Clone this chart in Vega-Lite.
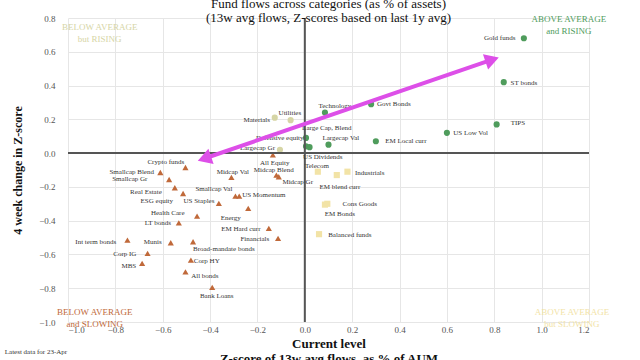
{
  "$schema": "https://vega.github.io/schema/vega-lite/v6.json",
  "width": 521,
  "height": 304,
  "autosize": {"type": "none"},
  "padding": {"left": 68, "top": 18, "right": 51, "bottom": 38},
  "background": "white",
  "config": {
    "view": {"stroke": null},
    "font": "Liberation Serif",
    "axis": {"labelFont": "Liberation Serif", "titleFont": "Liberation Serif", "labelColor": "#555", "labelFontSize": 9, "domain": false, "ticks": false, "gridColor": "#e6e6e6", "gridWidth": 1, "titleColor": "#111", "labelOverlap": false},
    "axisY": {"labelOverlap": false, "labelSeparation": 0}
  },
  "title": {
    "text": ["Fund flows across categories (as % of assets)", "(13w avg flows, Z-scores based on last 1y avg)"],
    "font": "Liberation Serif", "fontSize": 13, "fontWeight": "normal", "lineHeight": 14, "offset": -11, "color": "#111", "anchor": "middle"
  },
  "datasets": {
    "pts": [
      {"name": "Gold funds", "x": 0.925, "y": 0.68, "lx": 0.823, "ly": 0.68, "quad": "AR"},
      {"name": "ST bonds", "x": 0.84, "y": 0.42, "lx": 0.925, "ly": 0.414, "quad": "AR"},
      {"name": "TIPS", "x": 0.81, "y": 0.17, "lx": 0.9, "ly": 0.18, "quad": "AR"},
      {"name": "US Low Vol", "x": 0.6, "y": 0.12, "lx": 0.7, "ly": 0.118, "quad": "AR"},
      {"name": "EM Local curr", "x": 0.3, "y": 0.07, "lx": 0.427, "ly": 0.07, "quad": "AR"},
      {"name": "Govt Bonds", "x": 0.28, "y": 0.29, "lx": 0.376, "ly": 0.29, "quad": "AR"},
      {"name": "Technology", "x": 0.085, "y": 0.24, "lx": 0.127, "ly": 0.278, "quad": "AR"},
      {"name": "Large Cap, Blend", "x": 0.005, "y": 0.09, "lx": 0.093, "ly": 0.148, "quad": "AR"},
      {"name": "Largecap Val", "x": 0.1, "y": 0.05, "lx": 0.152, "ly": 0.089, "quad": "AR"},
      {"name": "Defensive equity", "x": 0.005, "y": 0.04, "lx": -0.106, "ly": 0.089, "quad": "AR"},
      {"name": "US Dividends", "x": 0.02, "y": 0.035, "lx": 0.076, "ly": -0.024, "quad": "AR"},
      {"name": "Materials", "x": -0.127, "y": 0.21, "lx": -0.203, "ly": 0.195, "quad": "BR"},
      {"name": "Utilities", "x": -0.06, "y": 0.195, "lx": -0.063, "ly": 0.237, "quad": "BR"},
      {"name": "Largecap Gr", "x": -0.105, "y": 0.02, "lx": -0.2, "ly": 0.03, "quad": "BR"},
      {"name": "Telecom", "x": 0.055, "y": -0.11, "lx": 0.051, "ly": -0.077, "quad": "AS"},
      {"name": "EM blend curr", "x": 0.135, "y": -0.13, "lx": 0.148, "ly": -0.2, "quad": "AS"},
      {"name": "Industrials", "x": 0.18, "y": -0.11, "lx": 0.274, "ly": -0.118, "quad": "AS"},
      {"name": "Cons Goods", "x": 0.095, "y": -0.3, "lx": 0.232, "ly": -0.302, "quad": "AS"},
      {"name": "EM Bonds", "x": 0.085, "y": -0.305, "lx": 0.148, "ly": -0.361, "quad": "AS"},
      {"name": "Balanced funds", "x": 0.06, "y": -0.48, "lx": 0.19, "ly": -0.485, "quad": "AS"},
      {"name": "Crypto funds", "x": -0.504, "y": -0.085, "lx": -0.587, "ly": -0.053, "quad": "BS"},
      {"name": "Smallcap Blend", "x": -0.61, "y": -0.115, "lx": -0.731, "ly": -0.113, "quad": "BS"},
      {"name": "Smallcap Gr", "x": -0.573, "y": -0.156, "lx": -0.739, "ly": -0.155, "quad": "BS"},
      {"name": "Real Estate", "x": -0.549, "y": -0.205, "lx": -0.671, "ly": -0.231, "quad": "BS"},
      {"name": "ESG equity", "x": -0.514, "y": -0.239, "lx": -0.625, "ly": -0.284, "quad": "BS"},
      {"name": "US Staples", "x": -0.363, "y": -0.298, "lx": -0.447, "ly": -0.284, "quad": "BS"},
      {"name": "Smallcap Val", "x": -0.293, "y": -0.255, "lx": -0.384, "ly": -0.213, "quad": "BS"},
      {"name": "US Momentum", "x": -0.277, "y": -0.255, "lx": -0.173, "ly": -0.249, "quad": "BS"},
      {"name": "Midcap Val", "x": -0.31, "y": -0.144, "lx": -0.304, "ly": -0.113, "quad": "BS"},
      {"name": "Energy", "x": -0.239, "y": -0.327, "lx": -0.313, "ly": -0.385, "quad": "BS"},
      {"name": "Health Care", "x": -0.455, "y": -0.373, "lx": -0.579, "ly": -0.355, "quad": "BS"},
      {"name": "LT bonds", "x": -0.532, "y": -0.413, "lx": -0.621, "ly": -0.415, "quad": "BS"},
      {"name": "Int term bonds", "x": -0.749, "y": -0.515, "lx": -0.883, "ly": -0.527, "quad": "BS"},
      {"name": "Munis", "x": -0.566, "y": -0.531, "lx": -0.642, "ly": -0.527, "quad": "BS"},
      {"name": "Broad-mandate bonds", "x": -0.472, "y": -0.525, "lx": -0.342, "ly": -0.568, "quad": "BS"},
      {"name": "Corp IG", "x": -0.664, "y": -0.594, "lx": -0.76, "ly": -0.598, "quad": "BS"},
      {"name": "MBS", "x": -0.687, "y": -0.653, "lx": -0.743, "ly": -0.669, "quad": "BS"},
      {"name": "Corp HY", "x": -0.481, "y": -0.634, "lx": -0.414, "ly": -0.639, "quad": "BS"},
      {"name": "All bonds", "x": -0.504, "y": -0.703, "lx": -0.422, "ly": -0.728, "quad": "BS"},
      {"name": "Bank Loans", "x": -0.391, "y": -0.795, "lx": -0.372, "ly": -0.847, "quad": "BS"},
      {"name": "EM Hard curr", "x": -0.152, "y": -0.446, "lx": -0.27, "ly": -0.45, "quad": "BS"},
      {"name": "Financials", "x": -0.113, "y": -0.505, "lx": -0.211, "ly": -0.509, "quad": "BS"},
      {"name": "All Equity", "x": -0.135, "y": -0.01, "lx": -0.127, "ly": -0.059, "quad": "BS"},
      {"name": "Midcap Blend", "x": -0.12, "y": -0.13, "lx": -0.131, "ly": -0.1, "quad": "BS"},
      {"name": "Midcap Gr", "x": -0.11, "y": -0.14, "lx": -0.03, "ly": -0.17, "quad": "BS"}
    ],
    "quads": [
      {"label": "BELOW AVERAGE\nbut RISING", "x": -0.866, "y": 0.745, "quad": "BR"},
      {"label": "ABOVE AVERAGE\nand RISING", "x": 1.115, "y": 0.794, "quad": "AR"},
      {"label": "BELOW AVERAGE\nand SLOWING", "x": -0.887, "y": -0.94, "quad": "BS"},
      {"label": "ABOVE AVERAGE\nbut SLOWING", "x": 1.128, "y": -0.94, "quad": "AS"}
    ],
    "arrow": [
      {"x": -0.424, "y": -0.032, "ang": 251.3},
      {"x": 0.791, "y": 0.553, "ang": 71.3}
    ],
    "zeroV": [{"x": 0, "y": -1.0, "y2": 0.8}],
    "zeroH": [{"y": 0, "x": -1.0, "x2": 1.2}],
    "note": [{"t": "Latest data for 23-Apr", "x": -1.267, "y": -1.178}]
  },
  "layer": [
    {
      "data": {"name": "pts"},
      "mark": {"type": "point", "filled": true, "size": 38, "opacity": 1},
      "encoding": {
        "x": {"field": "x", "type": "quantitative", "scale": {"domain": [-1.0, 1.2], "nice": false, "zero": false},
          "axis": {"tickCount": 11, "format": ".1f", "labelOverlap": false, "labelPadding": 3, "title": ["Current level", "Z-score of 13w avg flows, as % of AUM"], "titleFontSize": 13, "titleFontWeight": "bold", "titleLineHeight": 15, "titlePadding": 3}},
        "y": {"field": "y", "type": "quantitative", "scale": {"domain": [-1.0, 0.8], "nice": false, "zero": false},
          "axis": {"tickCount": 10, "format": ".1f", "labelOverlap": false, "labelBound": false, "labelPadding": 13, "title": "4 week change in Z-score", "titleFontSize": 12, "titleFontWeight": "bold", "titlePadding": 14}},
        "color": {"field": "quad", "type": "nominal", "scale": {"domain": ["AR", "BR", "AS", "BS"], "range": ["#4f9c5c", "#d6d5a5", "#f2e3a6", "#c0693a"]}, "legend": null},
        "shape": {"field": "quad", "type": "nominal", "scale": {"domain": ["AR", "BR", "AS", "BS"], "range": ["circle", "circle", "square", "triangle-up"]}, "legend": null}
      }
    },
    {
      "data": {"name": "zeroV"},
      "mark": {"type": "rule", "color": "#555", "strokeWidth": 2},
      "encoding": {
        "x": {"field": "x", "type": "quantitative"},
        "y": {"field": "y", "type": "quantitative"},
        "y2": {"field": "y2"}
      }
    },
    {
      "data": {"name": "zeroH"},
      "mark": {"type": "rule", "color": "#555", "strokeWidth": 2},
      "encoding": {
        "y": {"field": "y", "type": "quantitative"},
        "x": {"field": "x", "type": "quantitative"},
        "x2": {"field": "x2"}
      }
    },
    {
      "data": {"name": "pts"},
      "mark": {"type": "text", "fontSize": 7, "font": "Liberation Serif", "color": "#333", "align": "center", "baseline": "middle"},
      "encoding": {
        "x": {"field": "lx", "type": "quantitative"},
        "y": {"field": "ly", "type": "quantitative"},
        "text": {"field": "name"}
      }
    },
    {
      "data": {"name": "quads"},
      "mark": {"type": "text", "fontSize": 9, "font": "Liberation Serif", "align": "center", "baseline": "middle", "lineBreak": "\n", "lineHeight": 12},
      "encoding": {
        "x": {"field": "x", "type": "quantitative"},
        "y": {"field": "y", "type": "quantitative"},
        "text": {"field": "label"},
        "color": {"field": "quad", "type": "nominal", "scale": {"domain": ["AR", "BR", "AS", "BS"], "range": ["#4f9c5c", "#d6d5a5", "#f2e3a6", "#c0693a"]}, "legend": null}
      }
    },
    {
      "data": {"name": "arrow"},
      "mark": {"type": "line", "color": "#dd4fe8", "strokeWidth": 4},
      "encoding": {
        "x": {"field": "x", "type": "quantitative"},
        "y": {"field": "y", "type": "quantitative"}
      }
    },
    {
      "data": {"name": "arrow"},
      "mark": {"type": "point", "shape": "triangle-up", "filled": true, "size": 260, "color": "#dd4fe8", "opacity": 1},
      "encoding": {
        "x": {"field": "x", "type": "quantitative"},
        "y": {"field": "y", "type": "quantitative"},
        "angle": {"field": "ang", "type": "quantitative", "scale": null}
      }
    },
    {
      "data": {"name": "note"},
      "mark": {"type": "text", "fontSize": 7, "font": "Liberation Serif", "color": "#333", "align": "left", "baseline": "middle"},
      "encoding": {
        "x": {"field": "x", "type": "quantitative"},
        "y": {"field": "y", "type": "quantitative"},
        "text": {"field": "t"}
      }
    }
  ]
}
